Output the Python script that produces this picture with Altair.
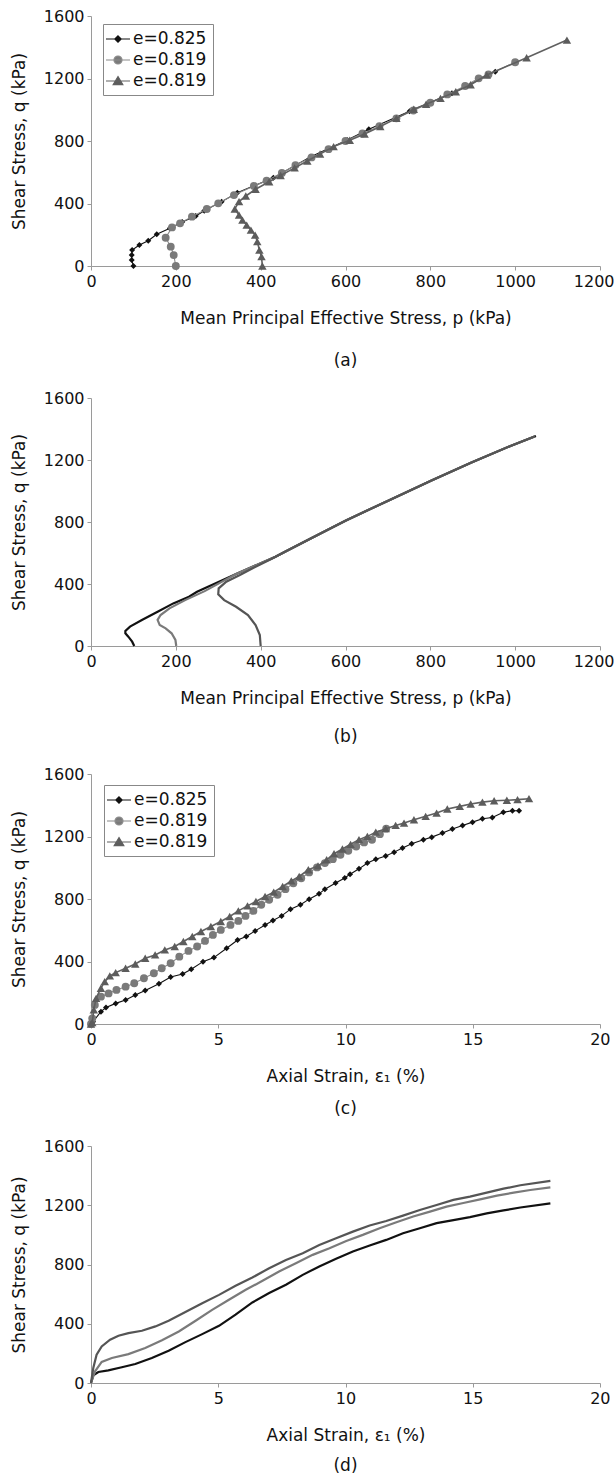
import altair as alt
import pandas as pd

FONT = "DejaVu Sans"
SERIES_IDS = ["s1", "s2", "s3"]
SERIES_LABELS = ["e=0.825", "e=0.819", "e=0.819"]
Y_TITLE = "Shear Stress, q (kPa)"
Y_TICKS = [0, 400, 800, 1200, 1600]
P_TICKS = [0, 200, 400, 600, 800, 1000, 1200]
E_TICKS = [0, 5, 10, 15, 20]
P_TITLE = "Mean Principal Effective Stress, p (kPa)"
E_TITLE = "Axial Strain, \u03b5\u2081 (%)"

# ---------- panel (a): stress paths with markers ----------
A_P1 = [100, 96, 96, 97, 114, 135, 155, 186, 215, 247, 267, 308, 345, 430, 518, 604, 655, 751, 851, 953]
A_Q1 = [0, 38, 70, 102, 134, 162, 203, 241, 282, 320, 354, 412, 469, 565, 700, 806, 875, 990, 1105, 1244]
A_P2 = [200, 195, 188, 176, 191, 210, 238, 273, 300, 337, 384, 414, 450, 482, 520, 560, 600, 640, 680,
        720, 760, 800, 840, 882, 914, 937, 1000]
A_Q2 = [0, 70, 124, 181, 247, 273, 316, 365, 401, 454, 512, 546, 595, 646, 695, 748, 800, 848, 895,
        945, 995, 1045, 1098, 1152, 1201, 1226, 1304]
A_P3 = [404, 402, 397, 392, 387, 377, 367, 357, 349, 339, 349, 365, 388, 420, 447, 480, 510, 540, 572,
        610, 645, 682, 720, 761, 790, 824, 860, 895, 933, 1027, 1122]
A_Q3 = [0, 60, 102, 156, 198, 230, 262, 294, 326, 365, 412, 448, 491, 539, 579, 628, 672, 717, 764,
        805, 845, 892, 945, 1003, 1035, 1073, 1115, 1160, 1222, 1333, 1446]

# ---------- panel (b): stress paths, continuous ----------
B_P1 = [102, 97, 88, 81, 81, 92, 120, 157, 194, 231, 250, 342, 435, 518, 601, 703, 804, 897, 989, 1049]
B_Q1 = [0, 28, 60, 82, 97, 125, 168, 221, 275, 318, 350, 464, 576, 694, 810, 941, 1070, 1184, 1291, 1355]
B_P2 = [201, 199, 190, 176, 162, 157, 164, 185, 222, 268, 342, 435, 518, 601, 703, 804, 897, 989, 1046]
B_Q2 = [0, 39, 82, 114, 135, 168, 200, 243, 296, 354, 464, 576, 694, 810, 941, 1070, 1184, 1291, 1352]
B_P3 = [400, 398, 388, 370, 342, 314, 300, 301, 319, 351, 388, 425, 458, 518, 601, 703, 804, 897, 989, 1047]
B_Q3 = [0, 71, 135, 200, 253, 296, 333, 372, 415, 458, 511, 561, 610, 694, 810, 941, 1070, 1184, 1291, 1353]

# ---------- panel (c): stress-strain with markers ----------
C_E1 = [0.0, 0.08, 0.39, 0.59, 0.97, 1.36, 1.74, 2.13, 2.67, 3.13, 3.6, 3.94, 4.4, 4.83, 5.33, 5.76, 6.1,
        6.45, 6.84, 7.15, 7.49, 7.84, 8.23, 8.57, 8.96, 9.19, 9.61, 9.97, 10.18, 10.53, 10.86, 11.19, 11.58,
        11.91, 12.24, 12.6, 13.06, 13.39, 13.81, 14.2, 14.6, 14.99, 15.38, 15.77, 16.2, 16.56, 16.82]
C_Q1 = [0, 15, 79, 105, 132, 154, 186, 214, 258, 301, 320, 350, 399, 425, 485, 538, 560,
        596, 634, 662, 692, 735, 763, 799, 833, 863, 902, 934, 959, 993, 1030, 1055, 1075,
        1100, 1126, 1153, 1179, 1196, 1222, 1248, 1271, 1292, 1314, 1322, 1355, 1365, 1365]
C_E2 = [0.0, 0.05, 0.15, 0.39, 0.69, 1.0, 1.36, 1.7, 2.08, 2.47, 2.78, 3.13, 3.47, 3.83, 4.17, 4.48, 4.79,
        5.1, 5.48, 5.79, 6.07, 6.38, 6.69, 7.0, 7.33, 7.64, 7.95, 8.26, 8.57, 8.88, 9.19, 9.5, 9.8,
        10.11, 10.42, 10.73, 11.04, 11.35, 11.6]
C_Q2 = [0, 36, 122, 175, 196, 218, 239, 261, 293, 325, 357, 389, 431, 468, 496, 532, 570,
        602, 634, 660, 692, 724, 763, 795, 827, 863, 901, 933, 970, 1002, 1030, 1055, 1083,
        1109, 1136, 1162, 1179, 1215, 1250]
C_E3 = [0.0, 0.05, 0.11, 0.2, 0.39, 0.54, 0.74, 0.97, 1.36, 1.74, 2.13, 2.52, 2.9, 3.29, 3.63, 3.98, 4.32,
        4.71, 5.1, 5.45, 5.79, 6.15, 6.48, 6.84, 7.18, 7.53, 7.87, 8.18, 8.54, 8.92, 9.26, 9.55, 9.88,
        10.2, 10.53, 10.86, 11.19, 11.58, 11.97, 12.3, 12.69, 13.15, 13.58, 14.0, 14.49, 14.92, 15.38,
        15.84, 16.34, 16.76, 17.21]
C_Q3 = [0, 9, 90, 164, 229, 271, 308, 329, 357, 384, 421, 442, 474, 496, 528, 560, 592,
        624, 656, 688, 724, 756, 784, 816, 844, 880, 916, 944, 987, 1012, 1051, 1090, 1120,
        1150, 1180, 1201, 1228, 1250, 1271, 1286, 1307, 1329, 1350, 1376, 1393, 1408, 1420,
        1429, 1432, 1436, 1442]

# ---------- panel (d): stress-strain, continuous ----------
D_E1 = [0, 0.09, 0.29, 0.68, 1.21, 1.74, 2.39, 3.05, 3.71, 4.37, 5.03, 5.68, 6.34, 7.0, 7.66, 8.32, 8.97,
        9.63, 10.29, 10.95, 11.6, 12.26, 12.92, 13.58, 14.24, 14.89, 15.55, 16.21, 16.87, 18.05]
D_Q1 = [0, 52, 74, 85, 106, 128, 169, 218, 276, 330, 386, 461, 544, 607, 663, 730, 787,
        838, 888, 928, 966, 1011, 1045, 1079, 1100, 1120, 1145, 1165, 1185, 1213]
D_E2 = [0, 0.16, 0.42, 0.82, 1.47, 2.13, 2.79, 3.45, 4.11, 4.76, 5.42, 6.08, 6.74, 7.39, 8.05, 8.71, 9.37,
        10.03, 10.68, 11.34, 12.0, 12.66, 13.32, 13.97, 14.63, 15.29, 15.95, 16.61, 17.26, 18.05]
D_Q2 = [0, 79, 142, 169, 195, 236, 288, 348, 420, 494, 562, 629, 690, 753, 809, 865, 910,
        959, 1000, 1045, 1085, 1124, 1157, 1191, 1215, 1240, 1265, 1285, 1303, 1321]
D_E3 = [0, 0.09, 0.22, 0.42, 0.75, 1.08, 1.47, 2.0, 2.53, 3.05, 3.71, 4.37, 5.03, 5.68, 6.34, 7.0, 7.66,
        8.32, 8.97, 9.63, 10.29, 10.95, 11.6, 12.26, 12.92, 13.58, 14.24, 14.89, 15.55, 16.21, 16.87, 18.05]
D_Q3 = [0, 101, 191, 247, 292, 319, 337, 353, 382, 420, 479, 539, 595, 656, 712, 775, 831,
        876, 932, 977, 1022, 1063, 1094, 1130, 1168, 1202, 1236, 1258, 1285, 1312, 1335, 1364]

# ---------- styles ----------
LINE_COLORS_MARKED = ["#111111", "#8a8a8a", "#606060"]
MARK_COLORS = ["#111111", "#7a7a7a", "#5c5c5c"]
LINE_WIDTHS_MARKED = [1.1, 1.1, 1.6]
MARK_SHAPES = ["diamond", "circle", "triangle-up"]
MARK_SIZES = [36, 62, 72]
LINE_COLORS_PLAIN = ["#111111", "#7a7a7a", "#555555"]
LEGEND_PATHS = [
    "M-1.5,0H1.5M0,-0.4L0.4,0L0,0.4L-0.4,0Z",
    "M-1.5,0H1.5M0.5,0A0.5,0.5 0 1 1 -0.5,0A0.5,0.5 0 1 1 0.5,0Z",
    "M-1.5,0H1.5M0,-0.55L0.6,0.45L-0.6,0.45Z",
]

label_expr = "'" + SERIES_LABELS[-1] + "'"
for sid, lab in reversed(list(zip(SERIES_IDS[:-1], SERIES_LABELS[:-1]))):
    label_expr = "datum.value == '" + sid + "' ? '" + lab + "' : " + label_expr


def build_frame(xs_list, ys_list):
    rows = []
    for sid, xs, ys in zip(SERIES_IDS, xs_list, ys_list):
        for i, (xv, yv) in enumerate(zip(xs, ys)):
            rows.append({"series": sid, "x": xv, "y": yv, "i": i})
    return pd.DataFrame(rows)


def panel(df, xtitle, xdom, xticks, height, label, title_offset, markers, legend_xy=None):
    last_test = "datum.value == " + str(xticks[-1])
    xenc = alt.X("x:Q", scale=alt.Scale(domain=xdom, nice=False, zero=False),
                 axis=alt.Axis(values=xticks, title=xtitle, format="d",
                               labelAlign={"condition": {"test": last_test, "value": "right"},
                                           "value": "center"},
                               labelOffset={"condition": {"test": last_test, "value": 14 if xticks[-1] > 100 else 10},
                                            "value": 0}))
    yenc = alt.Y("y:Q", scale=alt.Scale(domain=[0, 1600], nice=False),
                 axis=alt.Axis(values=Y_TICKS, title=Y_TITLE, format="d"))
    layers = []
    for k, sid in enumerate(SERIES_IDS):
        base = alt.Chart(df).transform_filter(alt.datum.series == sid)
        if markers:
            layers.append(base.mark_line(color=LINE_COLORS_MARKED[k], strokeWidth=LINE_WIDTHS_MARKED[k])
                          .encode(x=xenc, y=yenc, order="i:Q"))
            layers.append(base.mark_point(shape=MARK_SHAPES[k], filled=True, size=MARK_SIZES[k],
                                          color=MARK_COLORS[k], opacity=1)
                          .encode(x=xenc, y=yenc))
        else:
            layers.append(base.mark_line(color=LINE_COLORS_PLAIN[k], strokeWidth=2.2)
                          .encode(x=xenc, y=yenc, order="i:Q"))
    if legend_xy is not None:
        leg = alt.Legend(title=None, orient="none", legendX=legend_xy[0], legendY=legend_xy[1],
                         labelExpr=label_expr)
        layers.append(
            alt.Chart(df).mark_point(opacity=0).encode(
                fill=alt.Fill("series:N", scale=alt.Scale(domain=SERIES_IDS, range=MARK_COLORS), legend=leg),
                stroke=alt.Stroke("series:N", scale=alt.Scale(domain=SERIES_IDS, range=LINE_COLORS_MARKED),
                                  legend=leg),
                shape=alt.Shape("series:N", scale=alt.Scale(domain=SERIES_IDS, range=LEGEND_PATHS), legend=leg),
            )
        )
    return alt.layer(*layers).properties(
        width=509, height=height,
        title=alt.TitleParams(label, orient="bottom", offset=title_offset, anchor="middle", font=FONT,
                              fontSize=17, fontWeight="normal", color="#111111"),
    )


dfa = build_frame([A_P1, A_P2, A_P3], [A_Q1, A_Q2, A_Q3])
dfb = build_frame([B_P1, B_P2, B_P3], [B_Q1, B_Q2, B_Q3])
dfc = build_frame([C_E1, C_E2, C_E3], [C_Q1, C_Q2, C_Q3])
dfd = build_frame([D_E1, D_E2, D_E3], [D_Q1, D_Q2, D_Q3])

pa = panel(dfa, P_TITLE, [0, 1200], P_TICKS, 250, "(a)", 27, True, (12, 8))
pb = panel(dfb, P_TITLE, [0, 1200], P_TICKS, 248, "(b)", 23, False)
pc = panel(dfc, E_TITLE, [0, 20], E_TICKS, 250, "(c)", 17, True, (13, 11))
pd_ = panel(dfd, E_TITLE, [0, 20], E_TICKS, 237, "(d)", 15, False)

chart = (
    alt.vconcat(pa, pb, pc, pd_, spacing=21)
    .resolve_scale(fill="independent", stroke="independent", shape="independent")
    .resolve_legend(fill="independent", stroke="independent", shape="independent")
    .properties(padding={"left": 10, "top": 8, "right": 0, "bottom": 0}, background="white")
    .configure_axis(labelFont=FONT, labelFontSize=16, labelColor="#111111", titleFont=FONT,
                    titleFontSize=17, titleFontWeight="normal", titleColor="#111111",
                    domainColor="#9a9a9a", tickColor="#9a9a9a", tickSize=4, labelPadding=3,
                    grid=False, domainWidth=1, labelFlush=False)
    .configure_axisX(titlePadding=21)
    .configure_axisY(titlePadding=15)
    .configure_legend(labelFont=FONT, labelFontSize=17, labelColor="#111111", strokeColor="#888888",
                      fillColor="white", padding=6, rowPadding=4, symbolSize=256, symbolStrokeWidth=1.2,
                      symbolOpacity=1, labelOffset=6, labelLimit=300)
    .configure_view(stroke=None)
)

chart.save("out.html", embed_options={"renderer": "svg", "actions": False})
